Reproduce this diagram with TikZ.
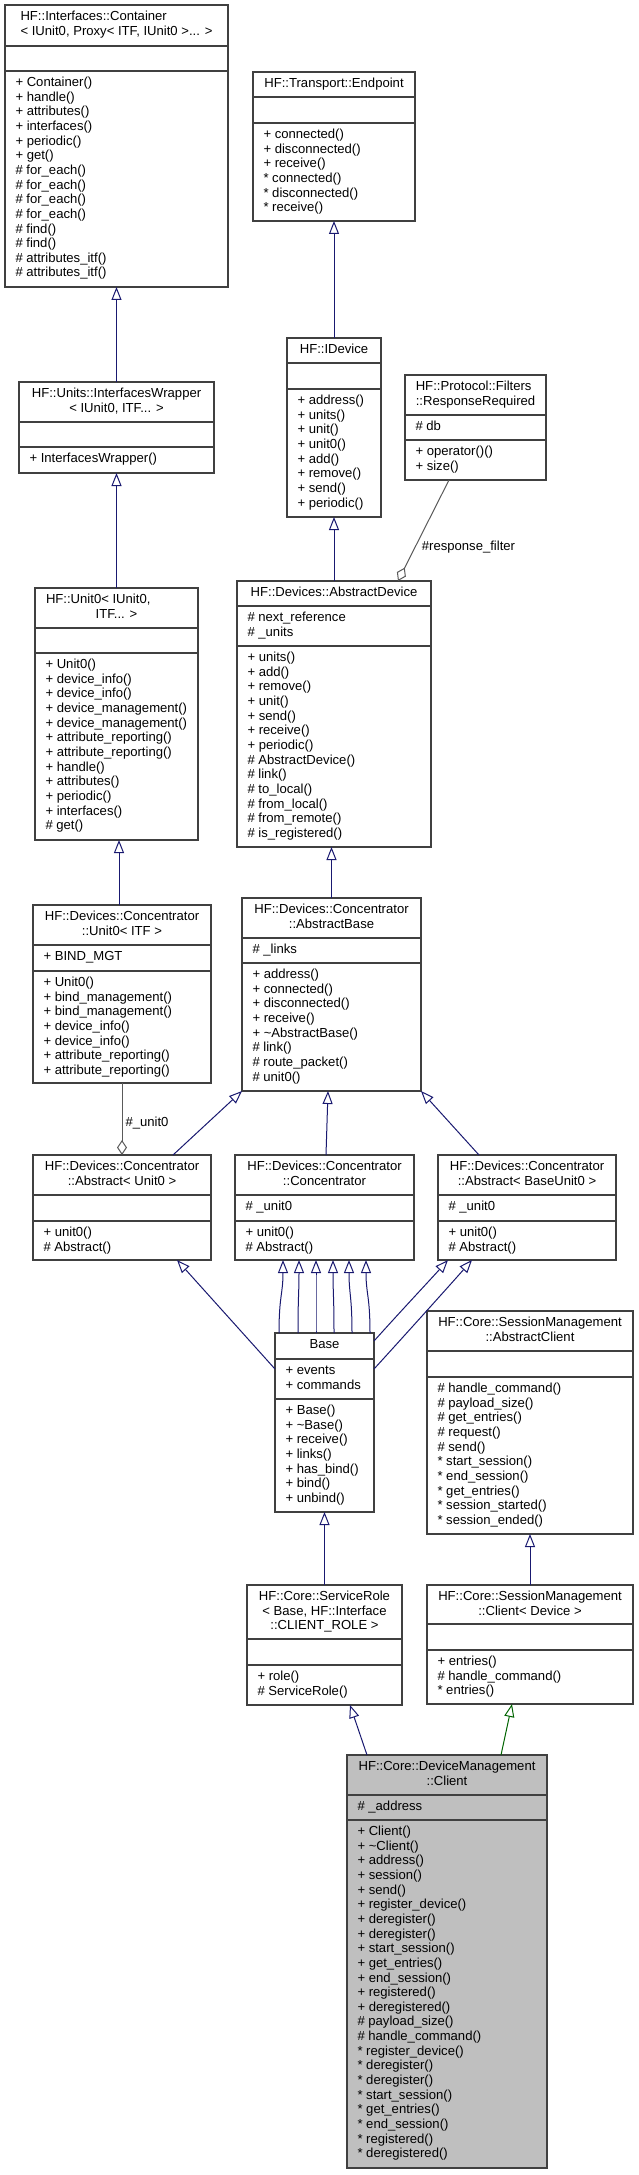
\documentclass[tikz,border=0pt]{standalone}
\usepackage{fontspec}
\setmainfont{Liberation Sans}
\usetikzlibrary{arrows.meta,calc}
\setlength\parindent{0pt}
\definecolor{inhblue}{HTML}{191970}
\definecolor{inhgreen}{HTML}{006400}
\definecolor{agggray}{HTML}{5A5A5A}
\definecolor{boxgray}{HTML}{404040}
\definecolor{hilite}{HTML}{BFBFBF}
\newcommand\dfont{\fontsize{13.1bp}{14.65bp}\selectfont}
\newcommand\sv{\vrule height 10bp depth 0pt width 0pt}
\tikzset{
 clsbox/.style={draw=boxgray, line width=1.1bp, inner sep=0, outer sep=0, rectangle},
 clsline/.style={draw=boxgray, line width=1.1bp},
 ttl/.style={inner sep=0, outer sep=0, align=center, font=\dfont, anchor=north},
 mem/.style={inner sep=0, outer sep=0, align=left, font=\dfont, anchor=north west},
 inh/.style={draw=inhblue, line width=1bp, -{Triangle[open, length=13bp, width=10bp]}},
 inhg/.style={inh, draw=inhgreen},
 agg/.style={draw=agggray, line width=1bp, -{Diamond[open, length=15bp, width=10bp]}},
 lbl/.style={inner sep=0, font=\dfont},
}
% #1 fill, #2 name, #3 L, #4 R, #5 T, #6 S1, #7 S2, #8 B
\newcommand\umlclass[8][white]{%
  \node[clsbox, fill=#1, anchor=north west, minimum width={(#4-#3)*1bp}, minimum height={(#8-#5)*1bp}] (#2) at (#3,#5) {};
  \draw[clsline] (#3,#6) -- (#4,#6) (#3,#7) -- (#4,#7);
  \coordinate (#2-T) at ({(#3+#4)/2},{#5+5.5});
  \coordinate (#2-A) at ({#3+10.5},{#6+5.5});
  \coordinate (#2-M) at ({#3+10.5},{#7+5.5});
}
\begin{document}
\begin{tikzpicture}[x=1bp,y=-1bp]
\fill[white] (0,0) rectangle (639,2175);
\useasboundingbox (0,0) rectangle (639,2175);

% Container
\umlclass{Container}{5}{228}{5}{46}{71}{287}
\node[ttl, align=left] (Container-title) at (Container-T) {\sv HF::Interfaces::Container\\< IUnit0, Proxy< ITF, IUnit0 >... >};
\node[mem] (Container-meths) at (Container-M) {\sv + Container()\\+ handle()\\+ attributes()\\+ interfaces()\\+ periodic()\\+ get()\\\# for\_each()\\\# for\_each()\\\# for\_each()\\\# for\_each()\\\# find()\\\# find()\\\# attributes\_itf()\\\# attributes\_itf()};

% Endpoint
\umlclass{Endpoint}{253}{415}{72}{97}{123}{221}
\node[ttl] (Endpoint-title) at (Endpoint-T) {\sv HF::Transport::Endpoint};
\node[mem] (Endpoint-meths) at (Endpoint-M) {\sv + connected()\\+ disconnected()\\+ receive()\\* connected()\\* disconnected()\\* receive()};

% InterfacesWrapper
\umlclass{Wrapper}{19}{214}{382}{422}{447}{473}
\node[ttl] (Wrapper-title) at (Wrapper-T) {\sv HF::Units::InterfacesWrapper\\< IUnit0, ITF... >};
\node[mem] (Wrapper-meths) at (Wrapper-M) {\sv + InterfacesWrapper()};

% Unit0<IUnit0, ITF...>
\umlclass{Unit0IU}{35}{198}{588}{628}{653}{840}
\node[mem] (Unit0IU-title) at (46,593.5) {\sv HF::Unit0< IUnit0,};
\node[ttl] (Unit0IU-title2) at ($(Unit0IU-T)+(0,14.65)$) {\sv ITF... >};
\node[mem] (Unit0IU-meths) at (Unit0IU-M) {\sv + Unit0()\\+ device\_info()\\+ device\_info()\\+ device\_management()\\+ device\_management()\\+ attribute\_reporting()\\+ attribute\_reporting()\\+ handle()\\+ attributes()\\+ periodic()\\+ interfaces()\\\# get()};

% IDevice
\umlclass{IDevice}{287}{381}{338}{363}{389}{517}
\node[ttl] (IDevice-title) at (IDevice-T) {\sv HF::IDevice};
\node[mem] (IDevice-meths) at (IDevice-M) {\sv + address()\\+ units()\\+ unit()\\+ unit0()\\+ add()\\+ remove()\\+ send()\\+ periodic()};

% ResponseRequired
\umlclass{RR}{405}{546}{375}{415}{440}{480}
\node[ttl, align=left] (RR-title) at (RR-T) {\sv HF::Protocol::Filters\\::ResponseRequired};
\node[mem] (RR-attrs) at (RR-A) {\sv \# db};
\node[mem] (RR-meths) at (RR-M) {\sv + operator()()\\+ size()};

% AbstractDevice
\umlclass{AbstractDevice}{237}{431}{581}{606}{646}{847}
\node[ttl] (AbstractDevice-title) at (AbstractDevice-T) {\sv HF::Devices::AbstractDevice};
\node[mem] (AbstractDevice-attrs) at (AbstractDevice-A) {\sv \# next\_reference\\\# \_units};
\node[mem] (AbstractDevice-meths) at (AbstractDevice-M) {\sv + units()\\+ add()\\+ remove()\\+ unit()\\+ send()\\+ receive()\\+ periodic()\\\# AbstractDevice()\\\# link()\\\# to\_local()\\\# from\_local()\\\# from\_remote()\\\# is\_registered()};

% Concentrator::Unit0<ITF>
\umlclass{ConcUnit0}{33}{211}{905}{945}{971}{1083}
\node[ttl] (ConcUnit0-title) at (ConcUnit0-T) {\sv HF::Devices::Concentrator\\::Unit0< ITF >};
\node[mem] (ConcUnit0-attrs) at (ConcUnit0-A) {\sv + BIND\_MGT};
\node[mem] (ConcUnit0-meths) at (ConcUnit0-M) {\sv + Unit0()\\+ bind\_management()\\+ bind\_management()\\+ device\_info()\\+ device\_info()\\+ attribute\_reporting()\\+ attribute\_reporting()};

% AbstractBase
\umlclass{AbstractBase}{242}{421}{898}{938}{963}{1091}
\node[ttl] (AbstractBase-title) at (AbstractBase-T) {\sv HF::Devices::Concentrator\\::AbstractBase};
\node[mem] (AbstractBase-attrs) at (AbstractBase-A) {\sv \# \_links};
\node[mem] (AbstractBase-meths) at (AbstractBase-M) {\sv + address()\\+ connected()\\+ disconnected()\\+ receive()\\+ \textasciitilde AbstractBase()\\\# link()\\\# route\_packet()\\\# unit0()};

% Abstract<Unit0>
\umlclass{AbsU}{33}{211}{1155}{1195}{1221}{1260}
\node[ttl] (AbsU-title) at (AbsU-T) {\sv HF::Devices::Concentrator\\::Abstract< Unit0 >};
\node[mem] (AbsU-meths) at (AbsU-M) {\sv + unit0()\\\# Abstract()};

% Concentrator
\umlclass{Conc}{235}{414}{1155}{1195}{1221}{1260}
\node[ttl] (Conc-title) at (Conc-T) {\sv HF::Devices::Concentrator\\::Concentrator};
\node[mem] (Conc-attrs) at (Conc-A) {\sv \# \_unit0};
\node[mem] (Conc-meths) at (Conc-M) {\sv + unit0()\\\# Abstract()};

% Abstract<BaseUnit0>
\umlclass{AbsB}{438}{616}{1155}{1195}{1221}{1260}
\node[ttl] (AbsB-title) at (AbsB-T) {\sv HF::Devices::Concentrator\\::Abstract< BaseUnit0 >};
\node[mem] (AbsB-attrs) at (AbsB-A) {\sv \# \_unit0};
\node[mem] (AbsB-meths) at (AbsB-M) {\sv + unit0()\\\# Abstract()};

% Base
\umlclass{Base}{275}{374}{1333}{1359}{1399}{1512}
\node[ttl] (Base-title) at (Base-T) {\sv Base};
\node[mem] (Base-attrs) at (Base-A) {\sv + events\\+ commands};
\node[mem] (Base-meths) at (Base-M) {\sv + Base()\\+ \textasciitilde Base()\\+ receive()\\+ links()\\+ has\_bind()\\+ bind()\\+ unbind()};

% AbstractClient
\umlclass{AbstractClient}{427}{633}{1311}{1351}{1377}{1534}
\node[ttl] (AbstractClient-title) at (AbstractClient-T) {\sv HF::Core::SessionManagement\\::AbstractClient};
\node[mem] (AbstractClient-meths) at (AbstractClient-M) {\sv \# handle\_command()\\\# payload\_size()\\\# get\_entries()\\\# request()\\\# send()\\* start\_session()\\* end\_session()\\* get\_entries()\\* session\_started()\\* session\_ended()};

% ServiceRole
\umlclass{ServiceRole}{247}{402}{1585}{1639}{1665}{1705}
\node[ttl] (ServiceRole-title) at (ServiceRole-T) {\sv HF::Core::ServiceRole\\< Base, HF::Interface\\::CLIENT\_ROLE >};
\node[mem] (ServiceRole-meths) at (ServiceRole-M) {\sv + role()\\\# ServiceRole()};

% Client<Device>
\umlclass{ClientDev}{427}{633}{1585}{1624}{1650}{1704}
\node[ttl] (ClientDev-title) at (ClientDev-T) {\sv HF::Core::SessionManagement\\::Client< Device >};
\node[mem] (ClientDev-meths) at (ClientDev-M) {\sv + entries()\\\# handle\_command()\\* entries()};

% DeviceManagement::Client
\umlclass[hilite]{Client}{347}{547}{1755}{1795}{1820}{2168}
\node[ttl] (Client-title) at (Client-T) {\sv HF::Core::DeviceManagement\\::Client};
\node[mem] (Client-attrs) at (Client-A) {\sv \# \_address};
\node[mem] (Client-meths) at (Client-M) {\sv + Client()\\+ \textasciitilde Client()\\+ address()\\+ session()\\+ send()\\+ register\_device()\\+ deregister()\\+ deregister()\\+ start\_session()\\+ get\_entries()\\+ end\_session()\\+ registered()\\+ deregistered()\\\# payload\_size()\\\# handle\_command()\\* register\_device()\\* deregister()\\* deregister()\\* start\_session()\\* get\_entries()\\* end\_session()\\* registered()\\* deregistered()};

% ---- inheritance edges ----
\draw[inh] (Wrapper.north) -- (Container.south);
\draw[inh] (Unit0IU.north) -- (Wrapper.south);
\draw[inh] ($(ConcUnit0.north west)+(86,0)$) -- ($(Unit0IU.south west)+(84,0)$);
\draw[inh] (IDevice.north) -- (Endpoint.south);
\draw[inh] (AbstractDevice.north) -- (IDevice.south);
\draw[inh] (AbstractBase.north) -- (AbstractBase.north |- AbstractDevice.south);
\draw[inh] ($(AbsU.north west)+(140,0)$) -- (AbstractBase.south west);
\draw[inh] ($(Conc.north west)+(91,0)$) -- ($(AbstractBase.south west)+(86,0)$);
\draw[inh] ($(AbsB.north west)+(41,0)$) -- (AbstractBase.south east);
\foreach \xb/\xc in {279/283, 298/299, 316/316, 334/333, 352/349, 370/366}
  \draw[inh] ($(Base.north west)+(\xb-275,0)$) .. controls (\xb,1296) and (\xc,1294) .. ($(Conc.south west)+(\xc-235,0)$);
\draw[inh] ($(Base.north east)+(0,8)$) .. controls (400,1312) and (430,1280) .. ($(AbsB.south west)+(10,0)$);
\draw[inh] ($(Base.north east)+(0,36)$) .. controls (405,1335) and (450,1285) .. ($(AbsB.south west)+(34,0)$);
\draw[inh] ($(Base.north west)+(0,36)$) -- ($(AbsU.south west)+(144,0)$);
\draw[inh] (ServiceRole.north) -- (Base.south);
\draw[inh] (ClientDev.north) -- (AbstractClient.south);
\draw[inh] ($(Client.north west)+(20,0)$) -- ($(ServiceRole.south west)+(103,0)$);
\draw[inhg] ($(Client.north west)+(154,0)$) -- ($(ClientDev.south west)+(85,0)$);

% ---- aggregation edges ----
\draw[agg] ($(RR.south west)+(44,0)$) -- ($(AbstractDevice.north west)+(161,0)$);
\node[lbl] (lblRF) at (468.5,547) {\#response\_filter};
\draw[agg] (ConcUnit0.south) -- (AbsU.north);
\node[lbl] (lblU0) at (147,1123) {\#\_unit0};
\end{tikzpicture}
\end{document}
